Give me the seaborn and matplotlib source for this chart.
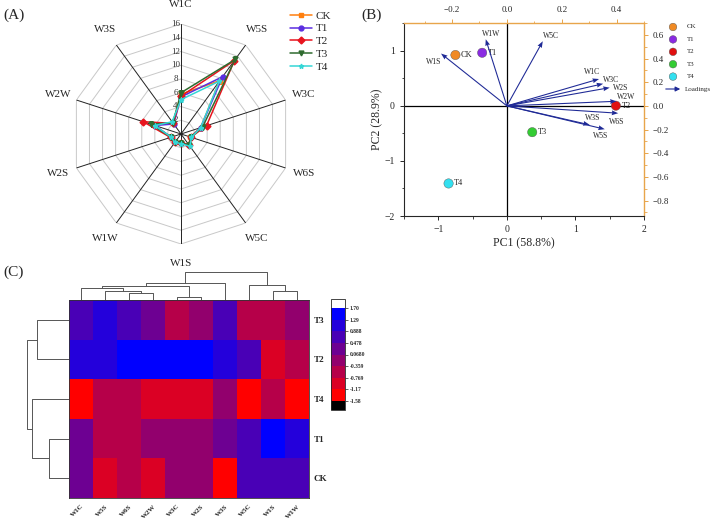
import numpy as np
import pandas as pd
import seaborn as sns
import matplotlib.pyplot as plt
from matplotlib.colors import ListedColormap, BoundaryNorm
from matplotlib.ticker import MultipleLocator

# ---------------- data ----------------
sensors = ["W1C", "W5S", "W3C", "W6S", "W5C", "W1S", "W1W", "W2S", "W2W", "W3S"]
groups = ["CK", "T1", "T2", "T3", "T4"]

# radar (A), same order as sensors
radar_ck = [5.8, 9.6, 3.0, 1.4, 2.0, 1.3, 1.4, 1.5, 4.2, 2.0]
radar_t1 = [5.4, 10.3, 3.0, 1.5, 2.0, 1.3, 1.4, 1.5, 4.0, 1.8]
radar_t2 = [5.5, 13.2, 3.9, 1.5, 1.9, 1.3, 1.4, 1.6, 5.8, 1.9]
radar_t3 = [6.0, 13.4, 3.3, 1.5, 2.0, 1.3, 1.4, 1.5, 4.6, 2.0]
radar_t4 = [5.0, 9.5, 3.0, 1.6, 2.2, 1.4, 1.5, 1.5, 4.0, 2.2]
radar_ticks = [2, 4, 6, 8, 10, 12, 14, 16]

# PCA biplot (B)
score_x = [-0.75, -0.36, 1.59, 0.37, -0.85]
score_y = [0.92, 0.96, 0.0, -0.48, -1.41]
load_names = ["W1S", "W1W", "W5C", "W1C", "W3C", "W2S", "W2W", "W6S", "W3S", "W5S"]
load_x = [-0.24, -0.077, 0.131, 0.336, 0.351, 0.375, 0.40, 0.406, 0.302, 0.357]
load_y = [0.442, 0.563, 0.546, 0.227, 0.187, 0.154, 0.039, -0.062, -0.16, -0.197]

# heatmap (C)
heat_rows = ["T3", "T2", "T4", "T1", "CK"]
heat_cols = ["W1C", "W5S", "W6S", "W2W", "W3C", "W2S", "W3S", "W5C", "W1S", "W1W"]
heat_t3 = [0.7, 1.1, 0.6, 0.3, -0.6, -0.1, 0.5, -0.6, -0.6, -0.2]
heat_t2 = [1.1, 1.1, 1.5, 1.5, 1.5, 1.5, 0.95, 0.6, -1.0, -0.6]
heat_t4 = [-1.4, -0.6, -0.6, -1.0, -1.0, -1.0, -0.2, -1.4, -0.6, -1.4]
heat_t1 = [0.3, -0.6, -0.6, -0.1, -0.1, -0.1, 0.4, 0.7, 1.5, 1.0]
heat_ck = [0.2, -1.0, -0.6, -1.0, -0.1, -0.1, -1.4, 0.7, 0.7, 0.7]
cbar_levels = [-1.58, -1.17, -0.769, -0.359, 0.068, 0.478, 0.888, 1.29, 1.70]
cbar_labels = ["-1.58", "-1.17", "-0.769", "-0.359", "0.0680", "0.478", "0.888", "1.29", "1.70"]

# dendrogram merges (scipy style: new nodes numbered after the leaves)
col_links = [(4, 5, 3.2), (2, 3, 7.2), (1, 11, 9.2), (0, 12, 12.5), (13, 10, 14.0),
             (14, 6, 16.7), (8, 9, 9.4), (7, 16, 15.0), (15, 17, 27.7)]
row_links = [(3, 4, 20.0), (0, 1, 32.3), (2, 5, 37.3), (6, 7, 42.3)]

# ---------------- style ----------------
sns.set_style("ticks")
plt.rcParams["font.family"] = ["Liberation Serif", "DejaVu Serif"]

W, H = 713, 524
fig = plt.figure(figsize=(W / 100, H / 100), dpi=100)


def px_axes(x0, y0, x1, y1, **kw):
    return fig.add_axes([x0 / W, 1 - y1 / H, (x1 - x0) / W, (y1 - y0) / H], **kw)


# ---------------- (A) radar ----------------
ax_a = px_axes(71, 24, 291, 244, projection="polar")
ax_a.set_theta_offset(np.pi / 2)
ax_a.set_theta_direction(-1)
ax_a.set_ylim(0, 16)
ax_a.set_xticks([])
ax_a.set_yticks([])
ax_a.grid(False)
ax_a.spines["polar"].set_visible(False)

angles = np.linspace(0, 2 * np.pi, len(sensors), endpoint=False)
ring = np.append(angles, angles[0])
for r in radar_ticks:
    ax_a.plot(ring, [r] * len(ring), color="#c8c8c8", lw=0.7, zorder=1)
    ax_a.annotate(str(r), (0, r), xytext=(-4, 0), textcoords="offset points",
                  ha="center", va="center", fontsize=6.5, color="#333333", zorder=1)
for a in angles:
    ax_a.plot([a, a], [0, 16], color="#222222", lw=0.7, zorder=1)
for a, s in zip(angles, sensors):
    ax_a.text(a, 18.8, s, ha="center", va="center", fontsize=8)

radar_sets = [radar_ck, radar_t1, radar_t2, radar_t3, radar_t4]
radar_colors = ["#ff7f0e", "#5b2ee0", "#e8141e", "#2f6b2f", "#35d6d6"]
radar_markers = ["s", "o", "D", "v", "*"]
for vals, g, c, m in zip(radar_sets, groups, radar_colors, radar_markers):
    ax_a.plot(ring, vals + vals[:1], color=c, marker=m, markersize=3.5, lw=1.1,
              label=g, zorder=3)
ax_a.legend(loc="upper left", bbox_to_anchor=(282 / W, 1 - 3 / H),
            bbox_transform=fig.transFigure, frameon=False, fontsize=8,
            labelspacing=0.28, handlelength=2.0, handletextpad=0.3, borderpad=0.2)

# ---------------- (B) PCA biplot ----------------
ax_b = px_axes(404, 23, 644, 216)
orange = "#e8a54b"
score_df = pd.DataFrame({"PC1": score_x, "PC2": score_y, "group": groups})
score_colors = ["#f08a24", "#8a2be2", "#e01010", "#33cc33", "#33e0f0"]
sns.scatterplot(data=score_df, x="PC1", y="PC2", hue="group", palette=score_colors,
                s=45, edgecolor="#555555", linewidth=0.3, ax=ax_b, legend=False, zorder=4)
for x, y, g in zip(score_x, score_y, groups):
    ax_b.annotate(g, (x, y), xytext=(4, 0), textcoords="offset points",
                  va="center", fontsize=6, zorder=5)
ax_b.set_xlim(-1.5, 2)
ax_b.set_ylim(-2, 1.5)
ax_b.axhline(0, color="black", lw=0.9, zorder=1)
ax_b.axvline(0, color="black", lw=0.9, zorder=1)
ax_b.set_xticks([-1, 0, 1, 2])
ax_b.set_yticks([-2, -1, 0, 1])
ax_b.xaxis.set_minor_locator(MultipleLocator(0.5))
ax_b.yaxis.set_minor_locator(MultipleLocator(0.5))
ax_b.tick_params(labelsize=7, length=3, width=0.7)
ax_b.tick_params(which="minor", length=1.8, width=0.6)
ax_b.set_xlabel("PC1 (58.8%)", fontsize=8.5, labelpad=2)
ax_b.set_ylabel("PC2 (28.9%)", fontsize=8.5, labelpad=1)
for side in ["left", "bottom"]:
    ax_b.spines[side].set_linewidth(0.8)
for side in ["top", "right"]:
    ax_b.spines[side].set_color(orange)
    ax_b.spines[side].set_linewidth(1.0)

ax_l = px_axes(404, 23, 644, 216, frameon=False)
ax_l.set_xlim(-0.375, 0.5)
ax_l.set_ylim(-0.93, 0.70)
ax_l.xaxis.tick_top()
ax_l.yaxis.tick_right()
ax_l.set_xticks([-0.2, 0.0, 0.2, 0.4])
ax_l.set_yticks([-0.8, -0.6, -0.4, -0.2, 0.0, 0.2, 0.4, 0.6])
ax_l.xaxis.set_major_formatter("{x:.1f}")
ax_l.yaxis.set_major_formatter("{x:.1f}")
ax_l.xaxis.set_minor_locator(MultipleLocator(0.1))
ax_l.yaxis.set_minor_locator(MultipleLocator(0.1))
ax_l.tick_params(labelsize=6.5, length=3, width=0.7, color=orange)
ax_l.tick_params(which="minor", length=1.8, width=0.6, color=orange)
navy = "#1f2a96"
ax_l.quiver(np.zeros(len(load_x)), np.zeros(len(load_y)), load_x, load_y,
            angles="xy", scale_units="xy", scale=1, color=navy, width=0.0045,
            headwidth=4.5, headlength=6, headaxislength=5.5, zorder=3)
load_offsets = {"W1S": (-5, -6), "W1W": (4, 4), "W5C": (6, 4), "W1C": (-5, 5),
                "W3C": (6, 3), "W2S": (8, 0), "W2W": (7, 3), "W6S": (-1, -6),
                "W3S": (2, 5), "W5S": (-3, -5)}
for n, x, y in zip(load_names, load_x, load_y):
    ax_l.annotate(n, (x, y), xytext=load_offsets[n], textcoords="offset points",
                  ha="center", va="center", fontsize=5.5)

# legend of (B)
leg_ax = px_axes(650, 15, 713, 95, frameon=False)
leg_ax.set_xlim(0, 63)
leg_ax.set_ylim(80, 0)
leg_ax.set_xticks([])
leg_ax.set_yticks([])
leg_rows = [12 + 12.4 * i for i in range(len(groups))]
leg_ax.scatter([23] * len(groups), leg_rows, c=score_colors,
               s=30, edgecolor="#555555", linewidths=0.3)
for g, yy in zip(groups, leg_rows):
    leg_ax.text(37, yy, g, fontsize=5, va="center")
leg_ax.annotate("", xy=(33, 74), xytext=(13, 74),
                arrowprops=dict(arrowstyle="-|>", color=navy, lw=0.8, mutation_scale=7))
leg_ax.text(35, 74, "Loadings", fontsize=5, va="center")

# ---------------- (C) clustered heatmap ----------------
heat_df = pd.DataFrame([heat_t3, heat_t2, heat_t4, heat_t1, heat_ck],
                       index=heat_rows, columns=heat_cols)
cmap = ListedColormap([(1 - k / 7, 0, k / 7) for k in range(8)])
cmap.set_over("white")
cmap.set_under("black")
norm = BoundaryNorm(cbar_levels, cmap.N)

ax_h = px_axes(69, 300, 309, 498)
cax = px_axes(331, 299, 345, 410)
sns.heatmap(heat_df, ax=ax_h, cmap=cmap, norm=norm, cbar_ax=cax,
            cbar_kws=dict(extend="both", extendrect=True, extendfrac=0.1))
ax_h.yaxis.tick_right()
ax_h.tick_params(length=0, labelsize=5.5)
ax_h.set_yticklabels(heat_rows, rotation=0, fontweight="bold", fontsize=6.5)
ax_h.set_xticklabels(heat_cols, rotation=45, fontweight="bold", fontsize=5,
                     ha="right", rotation_mode="anchor")
ax_h.tick_params(axis="x", pad=4)
for sp in ax_h.spines.values():
    sp.set_visible(True)
    sp.set_linewidth(0.6)
    sp.set_color("#333333")

cbar = ax_h.collections[0].colorbar
cbar.set_ticks(cbar_levels, labels=cbar_labels)
cbar.ax.tick_params(labelsize=4, length=2, width=0.5, pad=1.5)
for t in cbar.ax.get_yticklabels():
    t.set_fontweight("bold")
cbar.outline.set_linewidth(0.6)


def draw_dendro(ax, links, n, vertical):
    pos = {i: i + 0.5 for i in range(n)}
    hgt = {i: 0.0 for i in range(n)}
    for k, (a, b, h) in enumerate(links):
        p = [pos[a], pos[a], pos[b], pos[b]]
        q = [hgt[a], h, h, hgt[b]]
        if vertical:
            ax.plot(p, q, color="#555555", lw=0.7)
        else:
            ax.plot(q, p, color="#555555", lw=0.7)
        pos[n + k] = (pos[a] + pos[b]) / 2
        hgt[n + k] = h


ax_cd = px_axes(69, 270, 309, 300, frameon=False)
draw_dendro(ax_cd, col_links, len(heat_cols), True)
ax_cd.set_xlim(0, len(heat_cols))
ax_cd.set_ylim(0, 30)
ax_cd.set_xticks([])
ax_cd.set_yticks([])

ax_rd = px_axes(22, 300, 69, 498, frameon=False)
draw_dendro(ax_rd, row_links, len(heat_rows), False)
ax_rd.set_xlim(47, 0)
ax_rd.set_ylim(len(heat_rows), 0)
ax_rd.set_xticks([])
ax_rd.set_yticks([])

# panel labels
fig.text(14 / W, 1 - 15 / H, "(A)", fontsize=11, ha="center", va="center")
fig.text(372 / W, 1 - 15 / H, "(B)", fontsize=11, ha="center", va="center")
fig.text(14 / W, 1 - 272 / H, "(C)", fontsize=11, ha="center", va="center")

fig.savefig("out.png", dpi=100)
